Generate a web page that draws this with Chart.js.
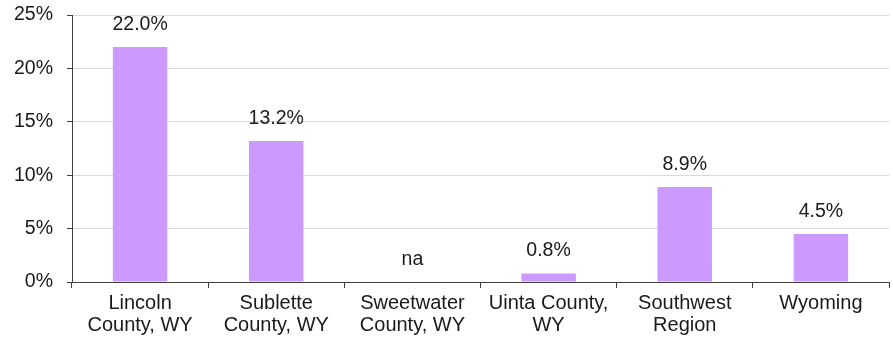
<!DOCTYPE html>
<html>
<head>
<meta charset="utf-8">
<script src="https://cdn.jsdelivr.net/npm/chart.js@4/dist/chart.umd.min.js"></script>
<style>
    html, body { margin: 0; padding: 0; background: #ffffff; }
    #wrap { width: 893px; height: 339px; position: relative; }
</style>
</head>
<body>
<div id="wrap"><canvas id="chart"></canvas></div>
<script>
const categories = [
    ['Lincoln', 'County, WY'],
    ['Sublette', 'County, WY'],
    ['Sweetwater', 'County, WY'],
    ['Uinta County,', 'WY'],
    ['Southwest', 'Region'],
    ['Wyoming']
];
const shares = [22.0, 13.2, null, 0.8, 8.9, 4.5];
const yTicks = [0, 5, 10, 15, 20, 25];

const FONT = 'Liberation Sans, Arial, sans-serif';
const TEXT = '#1a1a1a';
const SIZE = 19.5;

// value labels above each bar, "na" where there is no value
const barLabels = {
    id: 'barLabels',
    afterDatasetsDraw(chart) {
        const ctx = chart.ctx;
        const meta = chart.getDatasetMeta(0);
        const y = chart.scales.y;
        ctx.save();
        ctx.font = SIZE + 'px ' + FONT;
        ctx.fillStyle = TEXT;
        ctx.textAlign = 'center';
        ctx.textBaseline = 'alphabetic';
        meta.data.forEach((bar, i) => {
            const v = shares[i];
            const top = v == null ? y.getPixelForValue(0) : bar.y;
            const text = v == null ? 'na' : v.toFixed(1) + '%';
            ctx.fillText(text, bar.x, top - 17);
        });
        ctx.restore();
    }
};

new Chart(document.getElementById('chart').getContext('2d'), {
    type: 'bar',
    data: {
        labels: categories,
        datasets: [{
            data: shares,
            backgroundColor: '#cc99ff',
            borderWidth: 0,
            barPercentage: 0.4,
            categoryPercentage: 1.0
        }]
    },
    options: {
        responsive: true,
        maintainAspectRatio: false,
        animation: false,
        layout: { padding: { top: 0, right: 4, left: 0, bottom: 0 } },
        plugins: { legend: { display: false }, tooltip: { enabled: false } },
        scales: {
            x: {
                offset: true,
                afterFit(scale) { scale.height = 57; },
                grid: {
                    offset: true,
                    drawOnChartArea: false,
                    drawTicks: true,
                    tickLength: 6,
                    color: '#404040'
                },
                border: { color: '#404040', width: 1 },
                ticks: {
                    color: TEXT,
                    font: { family: FONT, size: 20, lineHeight: 1.07 },
                    maxRotation: 0,
                    autoSkip: false,
                    padding: 5
                }
            },
            y: {
                min: 0,
                max: 25,
                afterBuildTicks(scale) {
                    scale.ticks = yTicks.map((v) => ({ value: v }));
                },
                afterFit(scale) {
                    scale.width = 72;
                    scale.paddingTop = 15;
                    scale.paddingBottom = 0;
                },
                grid: {
                    color: '#d9d9d9',
                    tickColor: '#404040',
                    tickLength: 5
                },
                border: { color: '#404040', width: 1 },
                ticks: {
                    color: TEXT,
                    font: { family: FONT, size: SIZE },
                    padding: 14,
                    callback: (value) => value + '%'
                }
            }
        }
    },
    plugins: [barLabels]
});
</script>
</body>
</html>
